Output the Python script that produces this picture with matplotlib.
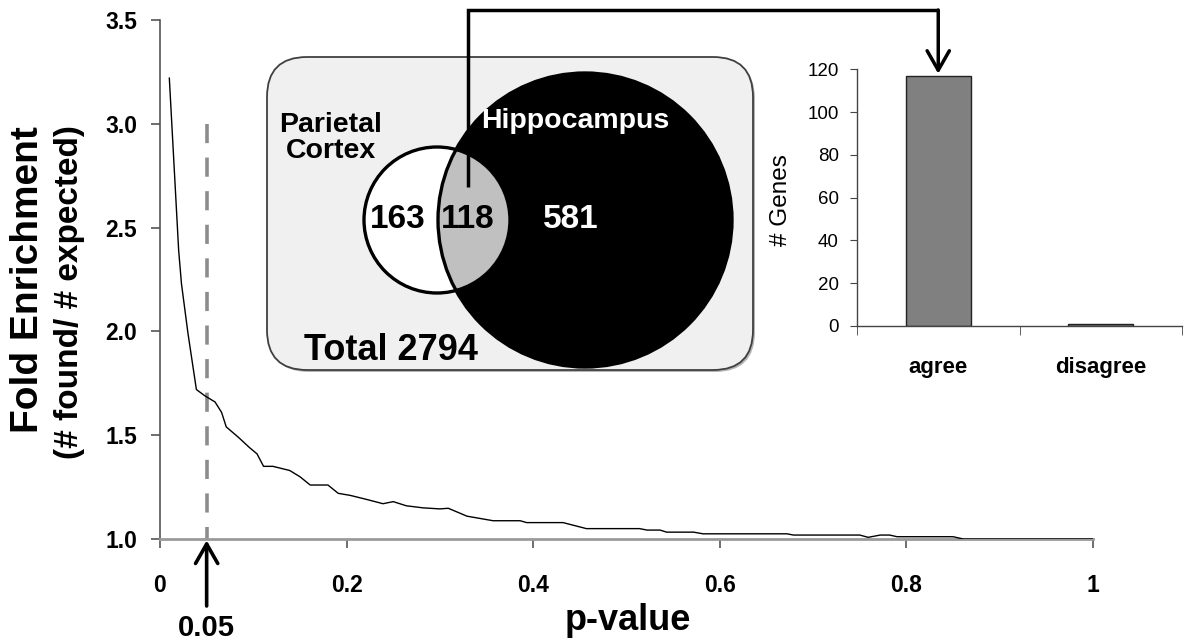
import matplotlib.pyplot as plt
from matplotlib.patches import Circle, FancyBboxPatch

W, H = 1188, 642

# curve: fold enrichment vs p-value cutoff
p_values = [0.010, 0.020, 0.023, 0.030, 0.039, 0.048, 0.059, 0.066, 0.071, 0.084,
            0.096, 0.104, 0.111, 0.121, 0.139, 0.150, 0.161, 0.171, 0.180, 0.191,
            0.204, 0.222, 0.239, 0.250, 0.264, 0.282, 0.300, 0.309, 0.329, 0.357,
            0.386, 0.393, 0.432, 0.457, 0.514, 0.522, 0.536, 0.543, 0.572, 0.582,
            0.672, 0.679, 0.750, 0.759, 0.772, 0.782, 0.790, 0.850, 0.861, 1.000]
fold_enrichment = [3.22, 2.39, 2.23, 1.99, 1.72, 1.69, 1.66, 1.61, 1.54, 1.49,
                   1.44, 1.41, 1.35, 1.35, 1.33, 1.30, 1.26, 1.26, 1.26, 1.22,
                   1.21, 1.19, 1.17, 1.18, 1.16, 1.15, 1.145, 1.148, 1.11, 1.088,
                   1.088, 1.079, 1.079, 1.05, 1.05, 1.043, 1.043, 1.033, 1.033, 1.025,
                   1.025, 1.019, 1.019, 1.008, 1.019, 1.019, 1.011, 1.011, 1.0, 1.0]
cutoff = 0.05
x_ticks = [0, 0.2, 0.4, 0.6, 0.8, 1.0]
x_ticklabels = ['0', '0.2', '0.4', '0.6', '0.8', '1']
y_ticks = [1.0, 1.5, 2.0, 2.5, 3.0, 3.5]

# venn numbers
venn_names = ['Parietal\nCortex', 'Hippocampus']
venn_counts = [163, 118, 581]
total_genes = 2794

# inset bars
bar_categories = ['agree', 'disagree']
bar_values = [117, 1]

plt.rcParams['font.family'] = ['Liberation Sans', 'DejaVu Sans']

fig = plt.figure(figsize=(W / 100, H / 100), dpi=100)

# ---- main plot ----
ax = fig.add_axes([160 / W, 1 - 539 / H, (1093 - 160) / W, (539 - 20) / H])
ax.set_facecolor('none')
ax.plot(p_values, fold_enrichment, color='black', lw=1.0, zorder=3)
ax.plot([cutoff, cutoff], [3.0, 1.0], color='#8c8c8c', lw=2.6,
        linestyle=(0, (5.3, 4.0)), zorder=2)
ax.set_xlim(0, 1)
ax.set_ylim(1.0, 3.5)
ax.set_xticks(x_ticks)
ax.set_xticklabels(x_ticklabels)
ax.set_yticks(y_ticks)
ax.set_yticklabels([f'{v:.1f}' for v in y_ticks])
for lab in ax.get_xticklabels() + ax.get_yticklabels():
    lab.set_fontweight('bold')
    lab.set_fontsize(16.5)
ax.spines['top'].set_visible(False)
ax.spines['right'].set_visible(False)
ax.spines['left'].set_color('#555555')
ax.spines['left'].set_linewidth(1.2)
ax.spines['bottom'].set_color('#9a9a9a')
ax.spines['bottom'].set_linewidth(2.0)
ax.tick_params(axis='y', direction='out', length=6.5, width=1.2, color='#555555', pad=10)
ax.tick_params(axis='x', direction='out', length=6.5, width=1.2, color='#555555', pad=19)

fig.text(28 / W, 1 - 280 / H, 'Fold Enrichment', rotation=90, ha='center', va='center',
         fontsize=28, fontweight='bold')
fig.text(70 / W, 1 - 292 / H, '(# found/ # expected)', rotation=90, ha='center', va='center',
         fontsize=24, fontweight='bold')
fig.text(628 / W, 1 - 620 / H, 'p-value', ha='center', va='center', fontsize=26, fontweight='bold')

# arrow marking the cutoff
ax.annotate('', xy=(cutoff, 1.0), xytext=(0, -67), textcoords='offset pixels',
            annotation_clip=False,
            arrowprops=dict(arrowstyle='->,head_length=0.7,head_width=0.4', mutation_scale=20,
                            lw=2.6, color='black', shrinkA=0, shrinkB=1))
ax.annotate(f'{cutoff:.2f}', xy=(cutoff, 1.0), xytext=(0, -89), textcoords='offset pixels',
            ha='center', va='center', fontsize=21, fontweight='bold',
            annotation_clip=False)

# ---- venn overlay (pixel coordinates) ----
ov = fig.add_axes([0, 0, 1, 1])
ov.set_xlim(0, W)
ov.set_ylim(H, 0)
ov.axis('off')

shadow = FancyBboxPatch((269, 59), 486, 313, boxstyle='round,pad=0,rounding_size=40',
                        fc='#b5b5b5', ec='none', zorder=1)
box = FancyBboxPatch((267, 57), 486, 313, boxstyle='round,pad=0,rounding_size=40',
                     fc='#f0f0f0', ec='#404040', lw=1.3, zorder=2)
ov.add_patch(shadow)
ov.add_patch(box)

small_c = (437, 220)
big_c = (585, 220)
ov.add_patch(Circle(small_c, 73, fc='white', ec='none', zorder=3))
big = Circle(big_c, 147, fc='black', ec='none', zorder=4)
ov.add_patch(big)
inter = Circle(small_c, 73, fc='#c0c0c0', ec='none', zorder=5)
ov.add_patch(inter)
inter.set_clip_path(big)
ov.add_patch(Circle(small_c, 73, fill=False, ec='black', lw=2.4, zorder=6))
ov.add_patch(Circle(big_c, 147, fill=False, ec='black', lw=2.4, zorder=6))

ov.text(331, 138, venn_names[0], ha='center', va='center', fontsize=20.5,
        fontweight='bold', color='black', zorder=7, linespacing=1.0)
ov.text(481, 121, venn_names[1], ha='left', va='center', fontsize=20.5,
        fontweight='bold', color='white', zorder=7)
ov.text(398, 220, str(venn_counts[0]), ha='center', va='center', fontsize=24,
        fontweight='bold', color='black', zorder=7)
ov.text(468, 220, str(venn_counts[1]), ha='center', va='center', fontsize=24,
        fontweight='bold', color='black', zorder=7)
ov.text(571, 220, str(venn_counts[2]), ha='center', va='center', fontsize=24,
        fontweight='bold', color='white', zorder=7)
ov.text(304, 351, f'Total {total_genes}', ha='left', va='center', fontsize=26,
        fontweight='bold', color='black', zorder=7)

# ---- inset bar chart ----
bx = fig.add_axes([857 / W, 1 - 326 / H, (1182 - 857) / W, (326 - 69.3) / H])
bx.set_facecolor('none')
xpos = list(range(len(bar_categories)))
bx.bar(xpos, bar_values, width=0.4, color='#808080', edgecolor='#222222', lw=1.0)
bx.set_xlim(-0.5, 1.5)
bx.set_ylim(0, 120)
bx.set_yticks(range(0, 121, 20))
bx.set_xticks(xpos)
bx.set_xticklabels(bar_categories, fontsize=16, fontweight='bold')
bx.set_xticks([-0.5, 0.5, 1.5], minor=True)
bx.tick_params(axis='x', which='major', length=0, pad=22)
bx.tick_params(axis='x', which='minor', direction='out', length=6.5, color='#444444')
bx.tick_params(axis='y', direction='out', length=5, color='#444444', labelsize=13.5, pad=8)
for s in ['top', 'right']:
    bx.spines[s].set_visible(False)
for s in ['left', 'bottom']:
    bx.spines[s].set_color('#444444')
    bx.spines[s].set_linewidth(1.0)
bx.set_ylabel('# Genes', fontsize=17.5)
bx.yaxis.set_label_coords(-0.2, 0.49)

# connector from the overlap to the 'agree' bar
tx, ty = bx.transData.transform((xpos[0], bar_values[0]))
tx_o, ty_o = tx, H - ty
ov.plot([468, 468, tx_o], [187, 10, 10], color='black', lw=2.5, solid_capstyle='butt',
        solid_joinstyle='miter', zorder=8, clip_on=False)
ov.annotate('', xy=(tx_o, ty_o - 2), xytext=(tx_o, 10),
            arrowprops=dict(arrowstyle='->,head_length=0.7,head_width=0.4', mutation_scale=20,
                            lw=2.5, color='black', shrinkA=0, shrinkB=0))

fig.savefig('out.png', dpi=100)
